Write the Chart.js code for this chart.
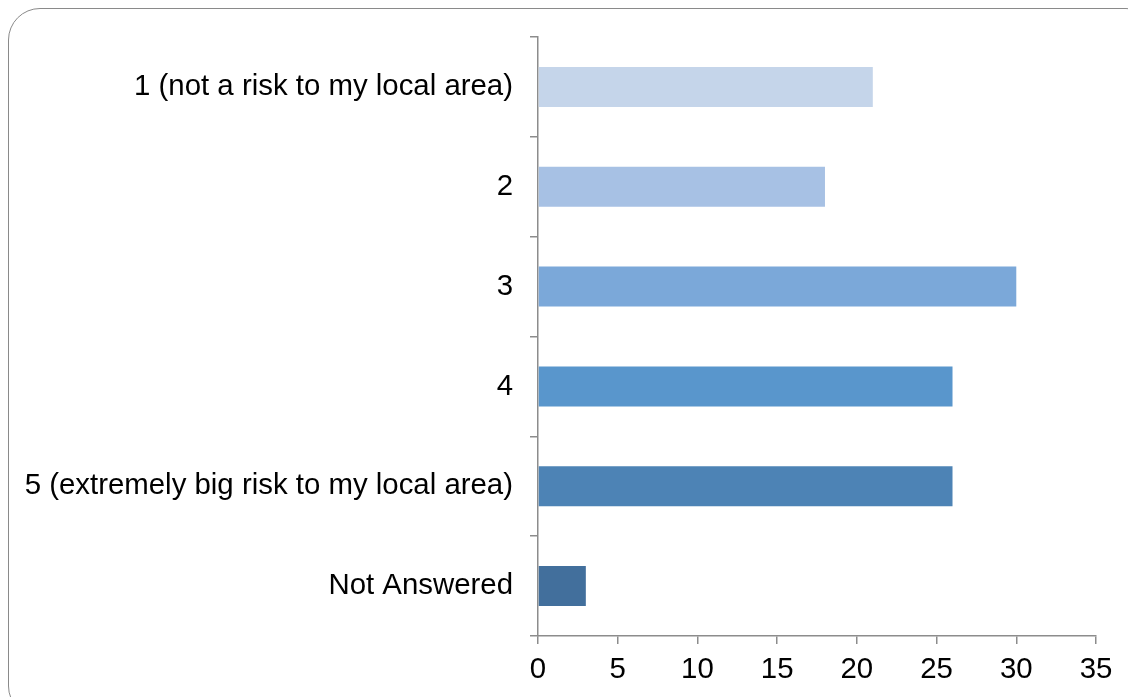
<!DOCTYPE html>
<html>
<head>
<meta charset="utf-8">
<script src="https://cdn.jsdelivr.net/npm/chart.js@4/dist/chart.umd.min.js"></script>
<style>
  html, body { margin: 0; padding: 0; background: #fff; overflow: hidden; }
  #wrap { position: relative; width: 1128px; height: 697px; }
  #frame {
    position: absolute; left: 8px; top: 8px; width: 1150px; height: 710px;
    border: 1.5px solid #8a8a8a; border-radius: 32px; box-sizing: border-box;
  }
  canvas { position: absolute; left: 0; top: 0; }
</style>
</head>
<body>
<div id="wrap">
  <div id="frame"></div>
  <canvas id="chart" width="1128" height="697"></canvas>
</div>
<script>
// Risk rating responses
const categories = [
  "1 (not a risk to my local area)",
  "2",
  "3",
  "4",
  "5 (extremely big risk to my local area)",
  "Not Answered"
];
const responses = [21, 18, 30, 26, 26, 3];
const barColors = ["#c5d5ea", "#a7c1e4", "#7ba8d9", "#5996cc", "#4d83b5", "#426f9c"];
const xTicks = [0, 5, 10, 15, 20, 25, 30, 35];

const axisGrey = "#8c8c8c";
const font = { family: "'Liberation Sans', Arial, sans-serif", size: 29.4 };

new Chart(document.getElementById("chart"), {
  type: "bar",
  data: {
    labels: categories,
    datasets: [{
      data: responses,
      backgroundColor: barColors,
      borderWidth: 0,
      barPercentage: 0.4,
      categoryPercentage: 1.0
    }]
  },
  options: {
    indexAxis: "y",
    responsive: false,
    animation: false,
    layout: { padding: { top: 37, right: 32, left: 0, bottom: 0 } },
    plugins: { legend: { display: false }, tooltip: { enabled: false } },
    scales: {
      x: {
        min: 0,
        max: 35,
        afterBuildTicks: (axis) => { axis.ticks = xTicks.map(v => ({ value: v })); },
        afterFit: (axis) => { axis.height = 61; },
        border: { color: axisGrey, width: 1.5 },
        grid: { drawOnChartArea: false, drawTicks: true, tickLength: 8, color: axisGrey, lineWidth: 1.5 },
        ticks: { color: "#000", font: font, padding: 8, maxRotation: 0 }
      },
      y: {
        afterFit: (axis) => { axis.width = 538; },
        border: { color: axisGrey, width: 1.5 },
        grid: { drawOnChartArea: false, drawTicks: true, tickLength: 8, color: axisGrey, lineWidth: 1.5, offset: true },
        ticks: { color: "#000", font: font, padding: 17, autoSkip: false }
      }
    }
  }
});
</script>
</body>
</html>
